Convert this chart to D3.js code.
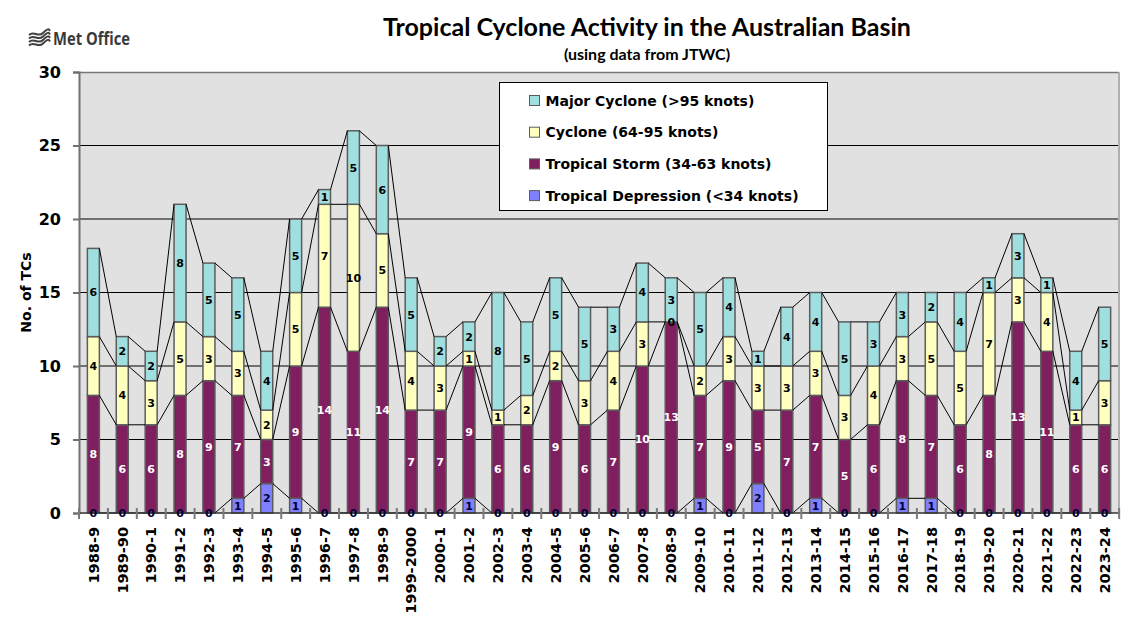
<!DOCTYPE html>
<html>
<head>
<meta charset="utf-8">
<script src="https://cdn.jsdelivr.net/npm/d3@7"></script>
<style>
  body { margin: 0; background: #fff; }
  svg { display: block; }
  .tc-tick text { font-family: 'DejaVu Sans', sans-serif; font-weight: bold; }
  .tc-label { font-family: 'DejaVu Sans', sans-serif; font-weight: bold; font-size: 11px; }
</style>
</head>
<body>
<svg id="chart"></svg>
<script>
const seasons = [
  '1988-9', '1989-90', '1990-1', '1991-2', '1992-3', '1993-4', '1994-5', '1995-6',
  '1996-7', '1997-8', '1998-9', '1999-2000', '2000-1', '2001-2', '2002-3', '2003-4',
  '2004-5', '2005-6', '2006-7', '2007-8', '2008-9', '2009-10', '2010-11', '2011-12',
  '2012-13', '2013-14', '2014-15', '2015-16', '2016-17', '2017-18', '2018-19', '2019-20',
  '2020-21', '2021-22', '2022-23', '2023-24',
];

// counts per season, bottom of the stack first
const depression = [0, 0, 0, 0, 0, 1, 2, 1, 0, 0, 0, 0, 0, 1, 0, 0, 0, 0, 0, 0, 0, 1, 0, 2,
  0, 1, 0, 0, 1, 1, 0, 0, 0, 0, 0, 0];
const storm = [8, 6, 6, 8, 9, 7, 3, 9, 14, 11, 14, 7, 7, 9, 6, 6, 9, 6, 7, 10, 13, 7, 9, 5,
  7, 7, 5, 6, 8, 7, 6, 8, 13, 11, 6, 6];
const cyclone = [4, 4, 3, 5, 3, 3, 2, 5, 7, 10, 5, 4, 3, 1, 1, 2, 2, 3, 4, 3, 0, 2, 3, 3,
  3, 3, 3, 4, 3, 5, 5, 7, 3, 4, 1, 3];
const major = [6, 2, 2, 8, 5, 5, 4, 5, 1, 5, 6, 5, 2, 2, 8, 5, 5, 5, 3, 4, 3, 5, 4, 1,
  4, 4, 5, 3, 3, 2, 4, 1, 3, 1, 4, 5];

const yTicks = [0, 5, 10, 15, 20, 25, 30];

const seriesInfo = [
  { key: 'depression', name: 'Tropical Depression (<34 knots)', color: '#8080ff', text: '#000033' },
  { key: 'storm', name: 'Tropical Storm (34-63 knots)', color: '#801f5f', text: '#ffffff' },
  { key: 'cyclone', name: 'Cyclone (64-95 knots)', color: '#ffffc0', text: '#000000' },
  { key: 'major', name: 'Major Cyclone (>95 knots)', color: '#a0dfe0', text: '#000000' },
];

const width = 1134;
const height = 625;
const margin = { top: 72, right: 15, bottom: 112, left: 79 };
const innerWidth = width - margin.left - margin.right;
const innerHeight = height - margin.top - margin.bottom;

const rows = seasons.map((season, i) => ({
  season,
  depression: depression[i],
  storm: storm[i],
  cyclone: cyclone[i],
  major: major[i],
}));

const stack = d3.stack().keys(seriesInfo.map((s) => s.key));
const layers = stack(rows);

const svg = d3.select('#chart')
  .attr('width', width)
  .attr('height', height);

// Titles
svg.append('text')
  .attr('x', 647)
  .attr('y', 36)
  .attr('text-anchor', 'middle')
  .style('font-family', 'Lato, sans-serif')
  .style('font-weight', 'bold')
  .style('font-size', '25px')
  .text('Tropical Cyclone Activity in the Australian Basin');

svg.append('text')
  .attr('x', 647)
  .attr('y', 60)
  .attr('text-anchor', 'middle')
  .style('font-family', 'Lato, sans-serif')
  .style('font-weight', 'bold')
  .style('font-size', '16px')
  .text('(using data from JTWC)');

// Met Office logo
const logo = svg.append('g').attr('transform', 'translate(29, 31)');
[0, 3.5, 7, 10.5].forEach((dy) => {
  logo.append('path')
    .attr('d', `M0,${dy + 4} C5,${dy - 1} 9,${dy + 7} 14,${dy + 2} S20,${dy - 2} 21,${dy}`)
    .attr('fill', 'none')
    .attr('stroke', '#404040')
    .attr('stroke-width', 2);
});
svg.append('text')
  .attr('x', 53)
  .attr('y', 45)
  .attr('textLength', 77)
  .attr('lengthAdjust', 'spacingAndGlyphs')
  .style('font-family', "'Liberation Sans Narrow', 'Open Sans', sans-serif")
  .style('font-weight', 'bold')
  .style('font-size', '18px')
  .style('fill', '#3a3a3a')
  .text('Met Office');

const gRoot = svg.append('g')
  .attr('transform', `translate(${margin.left}, ${margin.top})`);

// Scales
const xScale = d3.scaleBand()
  .domain(seasons)
  .range([0, innerWidth])
  .paddingInner(0.585)
  .paddingOuter(0.29);

const yScale = d3.scaleLinear()
  .domain([0, 30])
  .range([innerHeight, 0]);

const bw = xScale.bandwidth();

// Plot background
gRoot.append('rect')
  .attr('width', innerWidth)
  .attr('height', innerHeight)
  .attr('fill', '#e1e1e1');

// Grid
gRoot.append('g')
  .selectAll('line')
  .data(yTicks.filter((t) => t > 0 && t < 30))
  .join('line')
  .attr('x1', 0)
  .attr('x2', innerWidth)
  .attr('y1', (d) => yScale(d))
  .attr('y2', (d) => yScale(d))
  .attr('stroke', '#000')
  .attr('stroke-width', 1.2);

gRoot.append('line')
  .attr('x1', 0)
  .attr('x2', innerWidth)
  .attr('y1', 0.5)
  .attr('y2', 0.5)
  .attr('stroke', '#777')
  .attr('stroke-width', 1.5);

gRoot.append('line')
  .attr('x1', innerWidth)
  .attr('x2', innerWidth)
  .attr('y1', 0)
  .attr('y2', innerHeight)
  .attr('stroke', '#b0b0b0')
  .attr('stroke-width', 2);

// Bars
const gBars = gRoot.append('g');
gBars.selectAll('g')
  .data(layers)
  .join('g')
  .attr('fill', (layer) => seriesInfo[layer.index].color)
  .selectAll('rect')
  .data((layer) => layer)
  .join('rect')
  .attr('x', (d) => xScale(d.data.season))
  .attr('y', (d) => yScale(d[1]))
  .attr('width', bw)
  .attr('height', (d) => yScale(d[0]) - yScale(d[1]))
  .attr('stroke', '#5c5c5c')
  .attr('stroke-width', 1.5);

// Series lines between neighbouring bars
const gSeries = gRoot.append('g')
  .attr('stroke', '#000')
  .attr('stroke-width', 1);
layers.forEach((layer) => {
  gSeries.selectAll(null)
    .data(layer.slice(0, -1))
    .join('line')
    .attr('x1', (d) => xScale(d.data.season) + bw)
    .attr('y1', (d) => yScale(d[1]))
    .attr('x2', (d, i) => xScale(layer[i + 1].data.season))
    .attr('y2', (d, i) => yScale(layer[i + 1][1]));
});

// Axes
const yAxis = d3.axisLeft(yScale)
  .tickValues(yTicks)
  .tickSize(6)
  .tickPadding(12);
const gYAxis = gRoot.append('g')
  .attr('class', 'tc-tick')
  .call(yAxis);
gYAxis.select('.domain').attr('stroke', '#707070').attr('stroke-width', 2);
gYAxis.selectAll('.tick line').attr('stroke', '#707070').attr('stroke-width', 2);
gYAxis.selectAll('.tick text').style('font-size', '16px').attr('fill', '#000');

const gXAxis = gRoot.append('g')
  .attr('transform', `translate(0, ${innerHeight})`);
gXAxis.append('line')
  .attr('x1', 0)
  .attr('x2', innerWidth)
  .attr('stroke', '#333')
  .attr('stroke-width', 1.5);
gXAxis.selectAll('.tc-xtick')
  .data(d3.range(seasons.length + 1))
  .join('line')
  .attr('class', 'tc-xtick')
  .attr('x1', (i) => i * xScale.step())
  .attr('x2', (i) => i * xScale.step())
  .attr('y1', -5)
  .attr('y2', 6)
  .attr('stroke', '#7a7a7a')
  .attr('stroke-width', 2);
gXAxis.selectAll('text')
  .data(seasons)
  .join('text')
  .attr('transform', (d) => `translate(${xScale(d) + bw / 2}, 14) rotate(-90)`)
  .attr('dy', '0.36em')
  .attr('text-anchor', 'end')
  .style('font-family', "'DejaVu Sans', sans-serif")
  .style('font-weight', 'bold')
  .style('font-size', '14.5px')
  .text((d) => d);

// Y axis title
gRoot.append('text')
  .attr('transform', `translate(-48, ${innerHeight / 2}) rotate(-90)`)
  .attr('text-anchor', 'middle')
  .style('font-family', "'DejaVu Sans', sans-serif")
  .style('font-weight', 'bold')
  .style('font-size', '14px')
  .text('No. of TCs');

// Data labels
const gLabels = gRoot.append('g');
layers.forEach((layer) => {
  const info = seriesInfo[layer.index];
  gLabels.selectAll(null)
    .data(layer)
    .join('text')
    .attr('class', 'tc-label')
    .attr('x', (d) => xScale(d.data.season) + bw / 2)
    .attr('y', (d) => yScale((d[0] + d[1]) / 2))
    .attr('dy', '0.36em')
    .attr('text-anchor', 'middle')
    .attr('fill', info.text)
    .text((d) => d[1] - d[0]);
});

// Legend
const legend = svg.append('g').attr('transform', 'translate(499.5, 82.5)');
legend.append('rect')
  .attr('width', 328)
  .attr('height', 128)
  .attr('fill', '#fff')
  .attr('stroke', '#000')
  .attr('stroke-width', 1);
const legendItems = legend.selectAll('g')
  .data(seriesInfo.slice().reverse())
  .join('g')
  .attr('transform', (d, i) => `translate(30, ${18 + i * 31.7})`);
legendItems.append('rect')
  .attr('x', 0)
  .attr('y', -5)
  .attr('width', 10)
  .attr('height', 10)
  .attr('fill', (d) => d.color)
  .attr('stroke', '#5c5c5c')
  .attr('stroke-width', 1);
legendItems.append('text')
  .attr('x', 16)
  .attr('dy', '0.36em')
  .style('font-family', "'DejaVu Sans', sans-serif")
  .style('font-weight', 'bold')
  .style('font-size', '14px')
  .text((d) => d.name);
</script>
</body>
</html>
